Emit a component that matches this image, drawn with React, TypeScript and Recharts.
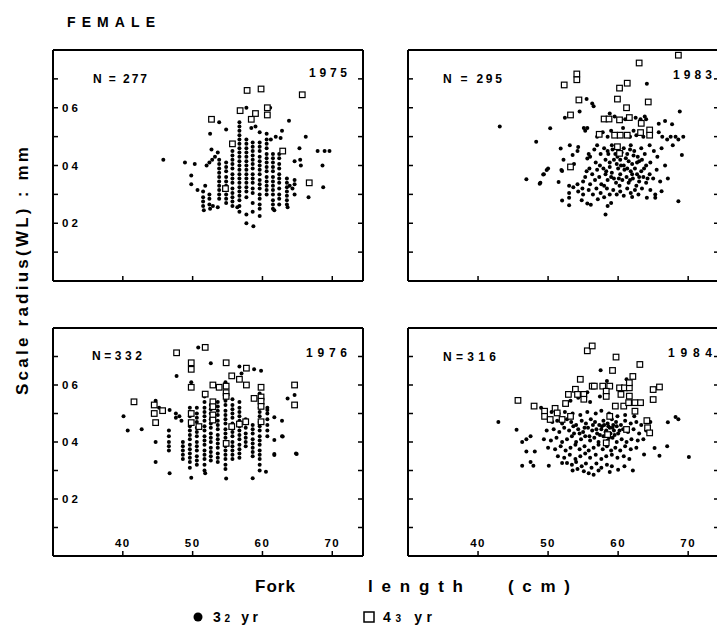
import { ScatterChart, Scatter, XAxis, YAxis } from 'recharts';

type Pt = [number, number];

const xTicks = [40, 50, 60, 70];
const xTickLabels = ['40', '50', '60', '70'];
const yTicks = [0.1, 0.2, 0.3, 0.4, 0.5, 0.6, 0.7];
const yTickLabels = ['', '0 2', '', '0 4', '', '0 6', ''];
const xDomain = [30, 74.4];
const yDomain = [0, 0.8];

// 1975: 3(2) yr fish (filled) and 4(3) yr fish (open squares)
const dots1975: Pt[] = [
  [45.8, 0.42], [48.9, 0.41], [50.3, 0.405], [49.8, 0.365], [49.8, 0.335], [50.7, 0.315], [51.8, 0.33],
  [52.0, 0.4], [52.4, 0.41], [52.8, 0.42], [53.2, 0.43], [53.6, 0.445], [52.5, 0.51], [52.7, 0.455], [53.8, 0.55], [54.8, 0.525],
  [57.7, 0.6], [61.1, 0.6], [63.8, 0.555], [62.8, 0.52], [58.4, 0.53], [59.0, 0.535], [59.6, 0.515], [60.6, 0.51], [61.2, 0.49], [61.9, 0.5], [62.6, 0.495],
  [66.2, 0.5], [65.3, 0.46], [65.4, 0.42], [65.5, 0.4], [64.6, 0.415], [67.9, 0.45], [68.9, 0.45], [69.6, 0.45], [68.6, 0.4], [68.7, 0.325], [66.6, 0.29],
  [63.9, 0.33], [64.3, 0.32], [64.6, 0.3], [63.6, 0.255], [61.7, 0.245], [59.6, 0.225], [57.7, 0.23], [57.7, 0.2], [58.7, 0.19], [56.4, 0.255], [53.6, 0.255],
  [51.5, 0.31], [51.5, 0.29], [51.5, 0.275], [51.5, 0.26], [51.6, 0.245], [52.4, 0.3], [52.4, 0.285], [52.4, 0.265], [52.5, 0.25], [52.9, 0.26],
  [53.8, 0.42], [53.8, 0.405], [53.8, 0.39], [53.8, 0.375], [53.8, 0.36], [53.8, 0.345], [53.8, 0.33], [53.8, 0.315], [53.8, 0.3], [53.8, 0.285],
  [54.8, 0.41], [54.8, 0.395], [54.8, 0.38], [54.8, 0.36], [54.8, 0.345], [54.8, 0.33], [54.8, 0.315], [54.8, 0.3], [54.8, 0.285], [54.8, 0.27],
  [55.7, 0.45], [55.7, 0.435], [55.7, 0.42], [55.7, 0.405], [55.7, 0.39], [55.7, 0.37], [55.7, 0.355], [55.7, 0.34], [55.7, 0.32], [55.7, 0.305], [55.7, 0.29], [55.7, 0.275], [55.7, 0.26],
  [56.7, 0.55], [56.7, 0.535], [56.7, 0.52], [56.7, 0.505], [56.7, 0.49], [56.7, 0.475], [56.7, 0.46], [56.7, 0.445], [56.7, 0.43], [56.7, 0.415], [56.7, 0.4],
  [56.7, 0.385], [56.7, 0.37], [56.7, 0.355], [56.7, 0.34], [56.7, 0.325], [56.7, 0.31], [56.7, 0.295], [56.7, 0.28], [56.7, 0.26], [56.7, 0.24],
  [57.7, 0.49], [57.7, 0.475], [57.7, 0.46], [57.7, 0.445], [57.7, 0.43], [57.7, 0.415], [57.7, 0.4], [57.7, 0.385], [57.7, 0.37], [57.7, 0.355], [57.7, 0.34], [57.7, 0.325], [57.7, 0.31], [57.7, 0.29],
  [58.6, 0.48], [58.6, 0.465], [58.6, 0.45], [58.6, 0.435], [58.6, 0.42], [58.6, 0.405], [58.6, 0.39], [58.6, 0.37], [58.6, 0.355], [58.6, 0.34], [58.6, 0.32], [58.6, 0.305], [58.6, 0.27], [58.6, 0.24],
  [59.6, 0.48], [59.6, 0.465], [59.6, 0.45], [59.6, 0.43], [59.6, 0.415], [59.6, 0.4], [59.6, 0.385], [59.6, 0.37], [59.6, 0.35], [59.6, 0.335], [59.6, 0.32], [59.6, 0.3], [59.6, 0.285], [59.6, 0.265], [59.6, 0.25],
  [60.6, 0.49], [60.6, 0.475], [60.6, 0.46], [60.6, 0.44], [60.6, 0.425], [60.6, 0.41], [60.6, 0.395], [60.6, 0.38], [60.6, 0.36], [60.6, 0.345], [60.6, 0.33], [60.6, 0.315], [60.6, 0.3],
  [61.5, 0.44], [61.5, 0.425], [61.5, 0.41], [61.5, 0.395], [61.5, 0.38], [61.5, 0.36], [61.5, 0.345], [61.5, 0.33], [61.5, 0.315], [61.5, 0.3], [61.5, 0.28], [61.5, 0.265], [61.5, 0.25],
  [62.4, 0.44], [62.4, 0.425], [62.4, 0.405], [62.4, 0.39], [62.4, 0.37], [62.4, 0.355], [62.4, 0.34], [62.4, 0.32], [62.4, 0.3], [62.4, 0.285], [62.4, 0.265],
  [63.5, 0.355], [63.5, 0.34], [63.5, 0.325], [63.5, 0.31], [63.5, 0.295], [63.5, 0.28], [63.5, 0.265], [64.6, 0.35], [64.6, 0.335],
];
const squares1975: Pt[] = [
  [57.8, 0.66], [59.8, 0.665], [65.7, 0.645], [56.8, 0.59], [58.4, 0.56], [59.0, 0.58], [60.7, 0.6],
  [60.7, 0.575], [52.7, 0.56], [55.7, 0.475], [62.9, 0.45], [66.7, 0.34], [54.7, 0.32],
];

// 1983
const dots1983: Pt[] = [
  [52.4, 0.565], [54.5, 0.587], [55.5, 0.63], [56.5, 0.605], [56.3, 0.615], [64.1, 0.683], [63.8, 0.57], [62.5, 0.565], [63.2, 0.56],
  [64.0, 0.56], [58.8, 0.58], [61.0, 0.56], [59.5, 0.57], [65.8, 0.545], [66.7, 0.554], [67.7, 0.543], [68.8, 0.587],
  [43.1, 0.535], [50.3, 0.529], [48.3, 0.482], [51.8, 0.459], [53.1, 0.47], [54.3, 0.464], [53.5, 0.436], [55.1, 0.53], [55.6, 0.53],
  [55.3, 0.52], [57.0, 0.5], [57.8, 0.515], [58.5, 0.5], [59.0, 0.52], [62.2, 0.52], [62.6, 0.505], [63.6, 0.5], [65.8, 0.515],
  [66.3, 0.5], [67.0, 0.49], [67.5, 0.5], [68.2, 0.5], [68.6, 0.49], [69.3, 0.5], [67.8, 0.47], [60.7, 0.53], [61.7, 0.5],
  [55.6, 0.424], [55.8, 0.44], [56.0, 0.43], [56.6, 0.455], [57.0, 0.47], [57.5, 0.44], [58.0, 0.46], [58.5, 0.45], [59.1, 0.47],
  [59.6, 0.44], [60.8, 0.46], [61.3, 0.44], [61.8, 0.47], [62.3, 0.45], [62.8, 0.43], [63.3, 0.46], [63.8, 0.44], [64.5, 0.47],
  [65.1, 0.45], [65.6, 0.43], [66.2, 0.46], [66.7, 0.4], [69.1, 0.436], [56.8, 0.41], [57.4, 0.4], [58.2, 0.42], [58.8, 0.41],
  [59.4, 0.42], [59.8, 0.405], [60.3, 0.42], [60.8, 0.4], [61.5, 0.415], [62.0, 0.405], [62.7, 0.41], [63.4, 0.42], [64.0, 0.4],
  [64.6, 0.41], [52.2, 0.42], [54.2, 0.45], [53.7, 0.405],
  [46.9, 0.352], [48.9, 0.34], [49.4, 0.37], [49.8, 0.384], [50.0, 0.39], [49.3, 0.369], [48.8, 0.337], [51.9, 0.384], [51.5, 0.343],
  [52.0, 0.381], [53.0, 0.33], [53.6, 0.325], [54.2, 0.335], [54.9, 0.32], [55.3, 0.36], [55.5, 0.38], [55.9, 0.39], [56.3, 0.37],
  [56.7, 0.35], [57.0, 0.385], [57.3, 0.36], [57.6, 0.335], [57.9, 0.39], [58.2, 0.37], [58.5, 0.35], [58.8, 0.395], [59.1, 0.375],
  [59.4, 0.355], [59.7, 0.34], [60.0, 0.39], [60.3, 0.37], [60.6, 0.35], [60.9, 0.385], [61.2, 0.36], [61.5, 0.34], [61.8, 0.38],
  [62.1, 0.355], [62.4, 0.39], [62.7, 0.37], [63.0, 0.345], [63.3, 0.38], [63.6, 0.36], [64.0, 0.34], [64.5, 0.37], [65.0, 0.355],
  [65.5, 0.385], [66.0, 0.345], [67.1, 0.355], [55.0, 0.345], [56.0, 0.335], [58.0, 0.33], [60.2, 0.33], [62.6, 0.33],
  [58.6, 0.44], [59.2, 0.455], [59.9, 0.43], [60.5, 0.445], [61.1, 0.425], [61.7, 0.455], [62.2, 0.435], [63.0, 0.415], [63.7, 0.39],
  [58.3, 0.38], [59.0, 0.36], [60.4, 0.4], [61.3, 0.39], [62.0, 0.37], [63.0, 0.36], [64.2, 0.355], [60.1, 0.355], [61.7, 0.35],
  [52.0, 0.279], [53.0, 0.288], [53.0, 0.262], [53.0, 0.305], [55.6, 0.268], [56.1, 0.264], [57.1, 0.283], [54.3, 0.31], [55.0, 0.3],
  [55.8, 0.315], [56.4, 0.3], [56.9, 0.32], [57.5, 0.305], [58.0, 0.29], [58.4, 0.32], [58.8, 0.3], [59.0, 0.27], [58.5, 0.26],
  [58.2, 0.23], [59.3, 0.315], [59.8, 0.3], [60.3, 0.31], [60.8, 0.295], [61.3, 0.32], [61.8, 0.305], [62.0, 0.291], [62.4, 0.315],
  [62.9, 0.3], [63.4, 0.32], [64.1, 0.288], [65.3, 0.288], [65.3, 0.3], [66.2, 0.311], [64.6, 0.315], [68.6, 0.276], [54.8, 0.28],
];
const squares1983: Pt[] = [
  [68.6, 0.782], [63.0, 0.755], [54.1, 0.717], [54.1, 0.697], [52.3, 0.679], [60.2, 0.668], [61.3, 0.685], [54.4, 0.627],
  [59.9, 0.63], [61.2, 0.6], [64.3, 0.62], [53.2, 0.575], [58.0, 0.561], [58.7, 0.561], [60.2, 0.558], [61.6, 0.566],
  [63.3, 0.546], [57.3, 0.508], [59.5, 0.505], [60.3, 0.505], [61.3, 0.505], [63.2, 0.514], [64.5, 0.523], [64.5, 0.505],
  [59.9, 0.465], [60.2, 0.442], [53.2, 0.395],
];

// 1976
const dots1976: Pt[] = [
  [40.1, 0.49], [40.7, 0.44], [42.7, 0.445], [44.7, 0.4], [44.7, 0.33], [46.7, 0.29], [49.8, 0.275], [51.8, 0.29], [54.8, 0.272],
  [58.6, 0.273], [60.5, 0.296], [61.7, 0.358], [64.9, 0.358], [62.8, 0.42], [61.7, 0.487], [62.8, 0.475], [59.8, 0.65], [52.6, 0.676],
  [47.7, 0.632], [49.8, 0.61], [63.6, 0.553], [64.6, 0.565], [46.7, 0.512], [50.8, 0.732], [56.7, 0.665], [58.8, 0.655], [57.0, 0.64],
  [44.7, 0.545], [45.2, 0.52], [48.1, 0.49], [48.4, 0.475], [62.9, 0.419], [61.7, 0.407], [61.7, 0.354], [64.8, 0.36], [60.7, 0.512],
  [46.6, 0.44], [46.6, 0.42], [46.6, 0.4], [46.6, 0.385], [46.6, 0.37], [47.6, 0.5], [47.6, 0.485],
  [48.6, 0.4], [48.6, 0.385], [48.6, 0.37], [48.6, 0.355], [48.6, 0.34],
  [49.6, 0.52], [49.6, 0.505], [49.6, 0.49], [49.6, 0.47], [49.6, 0.455], [49.6, 0.44], [49.6, 0.425], [49.6, 0.41], [49.6, 0.39], [49.6, 0.375], [49.6, 0.36], [49.6, 0.345], [49.6, 0.33], [49.6, 0.31],
  [50.6, 0.52], [50.6, 0.5], [50.6, 0.485], [50.6, 0.47], [50.6, 0.45], [50.6, 0.435], [50.6, 0.42], [50.6, 0.4], [50.6, 0.385], [50.6, 0.37], [50.6, 0.35], [50.6, 0.335], [50.6, 0.32],
  [51.7, 0.56], [51.7, 0.54], [51.7, 0.52], [51.7, 0.505], [51.7, 0.49], [51.7, 0.475], [51.7, 0.455], [51.7, 0.44], [51.7, 0.42], [51.7, 0.405], [51.7, 0.39], [51.7, 0.37], [51.7, 0.355], [51.7, 0.34], [51.7, 0.32], [51.7, 0.3],
  [52.6, 0.53], [52.6, 0.515], [52.6, 0.5], [52.6, 0.48], [52.6, 0.465], [52.6, 0.45], [52.6, 0.43], [52.6, 0.415], [52.6, 0.4], [52.6, 0.38], [52.6, 0.365], [52.6, 0.35], [52.6, 0.335],
  [53.6, 0.54], [53.6, 0.525], [53.6, 0.51], [53.6, 0.495], [53.6, 0.475], [53.6, 0.46], [53.6, 0.445], [53.6, 0.425], [53.6, 0.41], [53.6, 0.395], [53.6, 0.38], [53.6, 0.36], [53.6, 0.345], [53.6, 0.33],
  [54.7, 0.61], [54.7, 0.595], [54.7, 0.575], [54.7, 0.56], [54.7, 0.545], [54.7, 0.53], [54.7, 0.51], [54.7, 0.495], [54.7, 0.48], [54.7, 0.465],
  [54.7, 0.445], [54.7, 0.43], [54.7, 0.415], [54.7, 0.4], [54.7, 0.385], [54.7, 0.37], [54.7, 0.355], [54.7, 0.34], [54.7, 0.32], [54.7, 0.305],
  [55.7, 0.55], [55.7, 0.53], [55.7, 0.515], [55.7, 0.5], [55.7, 0.485], [55.7, 0.465], [55.7, 0.45], [55.7, 0.435], [55.7, 0.42], [55.7, 0.4], [55.7, 0.385], [55.7, 0.37], [55.7, 0.355], [55.7, 0.34],
  [56.7, 0.54], [56.7, 0.52], [56.7, 0.505], [56.7, 0.49], [56.7, 0.475], [56.7, 0.455], [56.7, 0.44], [56.7, 0.425], [56.7, 0.41], [56.7, 0.39], [56.7, 0.375], [56.7, 0.36], [56.7, 0.345],
  [57.6, 0.48], [57.6, 0.465], [57.6, 0.45], [57.6, 0.43], [57.6, 0.415], [57.6, 0.4], [57.6, 0.385],
  [58.6, 0.46], [58.6, 0.445], [58.6, 0.43], [58.6, 0.41], [58.6, 0.395], [58.6, 0.38], [58.6, 0.365], [58.6, 0.35],
  [59.6, 0.57], [59.6, 0.555], [59.6, 0.54], [59.6, 0.52], [59.6, 0.505], [59.6, 0.49], [59.6, 0.47], [59.6, 0.455], [59.6, 0.44],
  [59.6, 0.42], [59.6, 0.405], [59.6, 0.39], [59.6, 0.37], [59.6, 0.355], [59.6, 0.34], [59.6, 0.32], [59.6, 0.3],
  [60.7, 0.52], [60.7, 0.5], [60.7, 0.48], [60.7, 0.46], [60.7, 0.44], [60.7, 0.42],
];
const squares1976: Pt[] = [
  [47.7, 0.713], [51.8, 0.732], [49.8, 0.678], [49.8, 0.655], [54.8, 0.678], [57.7, 0.659], [55.6, 0.632], [56.7, 0.62],
  [57.7, 0.6], [49.8, 0.592], [52.9, 0.6], [53.8, 0.592], [54.8, 0.596], [54.8, 0.573], [54.8, 0.56], [59.8, 0.592],
  [59.8, 0.558], [59.8, 0.543], [59.8, 0.525], [64.6, 0.6], [64.6, 0.53], [51.8, 0.568], [52.9, 0.541], [52.9, 0.524],
  [52.9, 0.495], [52.9, 0.477], [41.6, 0.541], [44.5, 0.53], [44.5, 0.5], [45.7, 0.51], [44.7, 0.468], [49.8, 0.5],
  [49.8, 0.468], [50.9, 0.454], [55.6, 0.454], [56.7, 0.463], [57.6, 0.471], [59.8, 0.471], [54.8, 0.395], [58.8, 0.553],
];

// 1984
const dots1984: Pt[] = [
  [42.9, 0.47], [45.5, 0.443], [46.3, 0.4], [46.9, 0.41], [47.5, 0.42], [46.9, 0.367], [48.1, 0.367], [46.3, 0.317], [47.5, 0.33],
  [47.9, 0.317], [50.1, 0.317], [52.0, 0.326], [52.7, 0.326], [55.1, 0.297], [57.5, 0.652], [58.4, 0.614], [61.2, 0.62], [67.1, 0.469],
  [68.2, 0.488], [68.6, 0.48], [67.0, 0.385], [65.2, 0.379], [65.9, 0.352], [63.7, 0.356], [70.1, 0.347], [60.0, 0.303], [60.9, 0.315],
  [62.1, 0.3], [49.0, 0.52], [50.5, 0.505], [52.3, 0.53], [53.2, 0.545], [54.3, 0.555], [56.0, 0.54], [57.4, 0.56], [55.6, 0.575],
  [60.6, 0.59], [61.5, 0.6],
  [51.5, 0.5], [52.4, 0.505], [53.5, 0.5], [54.6, 0.495], [55.6, 0.505], [56.8, 0.5], [57.6, 0.51], [58.7, 0.5], [59.9, 0.49], [61.0, 0.495], [62.3, 0.49],
  [50.6, 0.47], [51.3, 0.475], [52.0, 0.465], [52.7, 0.48], [53.3, 0.47], [54.0, 0.46], [54.8, 0.475], [55.4, 0.465], [56.1, 0.48], [56.7, 0.47],
  [57.3, 0.46], [57.9, 0.475], [58.5, 0.465], [59.1, 0.48], [59.7, 0.47], [60.4, 0.46], [61.0, 0.475], [61.8, 0.465], [62.6, 0.47], [63.3, 0.46], [64.6, 0.47],
  [49.8, 0.44], [50.8, 0.445], [51.6, 0.435], [52.3, 0.45], [53.0, 0.44], [53.7, 0.43], [54.3, 0.445], [55.0, 0.435], [55.7, 0.45], [56.3, 0.44],
  [57.0, 0.43], [57.6, 0.445], [58.2, 0.435], [58.8, 0.45], [59.4, 0.44], [60.0, 0.43], [60.7, 0.445], [61.4, 0.435], [62.2, 0.445], [63.0, 0.43], [64.0, 0.44],
  [49.4, 0.41], [50.4, 0.405], [51.2, 0.415], [52.0, 0.4], [52.7, 0.41], [53.4, 0.42], [54.0, 0.4], [54.7, 0.41], [55.3, 0.42], [56.0, 0.405],
  [56.6, 0.415], [57.2, 0.4], [57.9, 0.42], [58.5, 0.405], [59.2, 0.415], [59.8, 0.4], [60.5, 0.41], [61.2, 0.4], [61.9, 0.41], [62.8, 0.405], [63.6, 0.41],
  [50.0, 0.38], [51.0, 0.375], [51.8, 0.385], [52.5, 0.37], [53.2, 0.38], [53.9, 0.39], [54.5, 0.375], [55.2, 0.385], [55.8, 0.37], [56.5, 0.38],
  [57.2, 0.39], [57.8, 0.375], [58.4, 0.385], [59.0, 0.37], [59.6, 0.38], [60.3, 0.37], [61.0, 0.385], [61.8, 0.375], [62.6, 0.38],
  [51.4, 0.35], [52.3, 0.345], [53.1, 0.355], [53.9, 0.34], [54.6, 0.35], [55.3, 0.36], [56.0, 0.345], [56.8, 0.355], [57.6, 0.34], [58.3, 0.35],
  [59.1, 0.355], [59.9, 0.345], [60.8, 0.35], [61.6, 0.34],
  [53.4, 0.32], [54.0, 0.33], [54.8, 0.315], [55.4, 0.325], [56.2, 0.31], [56.9, 0.325], [57.6, 0.31], [58.4, 0.32], [59.1, 0.315],
  [53.5, 0.3], [54.2, 0.305], [55.8, 0.29], [56.5, 0.285], [57.2, 0.3], [58.8, 0.295],
  [58.0, 0.46], [58.6, 0.455], [59.2, 0.45], [58.3, 0.44], [58.9, 0.43], [59.5, 0.425], [58.1, 0.42], [58.7, 0.415], [59.3, 0.46],
  [57.7, 0.455], [59.8, 0.455], [60.2, 0.44], [57.4, 0.425], [56.9, 0.445], [56.4, 0.46], [55.9, 0.42], [55.2, 0.45], [54.5, 0.43], [53.6, 0.455],
];
const squares1984: Pt[] = [
  [55.6, 0.72], [56.3, 0.737], [59.7, 0.698], [59.2, 0.651], [63.1, 0.672], [54.6, 0.62], [53.9, 0.585], [54.2, 0.567], [55.1, 0.567],
  [55.1, 0.55], [52.9, 0.567], [52.5, 0.535], [51.0, 0.518], [51.3, 0.502], [49.5, 0.508], [49.5, 0.49], [48.0, 0.526], [45.7, 0.546],
  [50.3, 0.479], [52.0, 0.479], [53.2, 0.49], [56.3, 0.596], [56.6, 0.596], [57.8, 0.596], [58.8, 0.596], [60.2, 0.59], [60.9, 0.59],
  [61.6, 0.59], [62.1, 0.63], [61.6, 0.608], [58.3, 0.578], [58.3, 0.56], [60.4, 0.567], [61.6, 0.561], [65.0, 0.584], [65.9, 0.593],
  [65.0, 0.549], [59.6, 0.526], [60.8, 0.526], [61.5, 0.538], [62.4, 0.538], [63.2, 0.538], [62.4, 0.508], [64.1, 0.475], [64.2, 0.45],
  [64.5, 0.432], [58.5, 0.426], [58.3, 0.397], [61.2, 0.444], [58.8, 0.49],
];

const toXY = (pts: Pt[]) => pts.map(([x, y]) => ({ x, y }));

const FONT = '"Liberation Sans", Arial, Helvetica, sans-serif';

const Dot = (p: any) => <circle cx={p.cx} cy={p.cy} r={2} fill="#000" />;
const Box = (p: any) => (
  <rect x={p.cx - 2.8} y={p.cy - 2.8} width={5.6} height={5.6} fill="#fff" stroke="#000" strokeWidth={1.2} />
);
const NoTick = () => <g />;
const XTick = (p: any) => (
  <text x={p.x} y={p.y} textAnchor="middle" fontFamily={FONT} fontWeight={700} fontSize={11.5} letterSpacing={1.5} fill="#000">
    {xTickLabels[xTicks.indexOf(p.payload.value)]}
  </text>
);
const YTick = (p: any) => (
  <text x={p.x} y={p.y + 4} textAnchor="start" fontFamily={FONT} fontWeight={700} fontSize={11.5} fill="#000">
    {yTickLabels[yTicks.indexOf(p.payload.value)]}
  </text>
);

const axisLine = { stroke: '#000', strokeWidth: 2 };
const tickLine = { stroke: '#000', strokeWidth: 1.5 };

interface PanelProps {
  left: number;
  top: number;
  width: number;
  height: number;
  dots: Pt[];
  squares: Pt[];
  showX: boolean;
  showY: boolean;
}

function Panel({ left, top, width, height, dots, squares, showX, showY }: PanelProps) {
  return (
    <div style={{ position: 'absolute', left: left - 1, top: top - 1 }}>
      <ScatterChart width={width + 2} height={height + 2} margin={{ top: 1, right: 1, bottom: 1, left: 1 }}>
        <XAxis xAxisId="b" type="number" dataKey="x" orientation="bottom" mirror domain={xDomain} ticks={xTicks}
          allowDataOverflow interval={0} axisLine={axisLine} tickLine={tickLine} tickSize={5} tickMargin={4}
          tick={showX ? XTick : NoTick} />
        <XAxis xAxisId="t" type="number" orientation="top" mirror domain={xDomain} ticks={xTicks}
          allowDataOverflow interval={0} axisLine={axisLine} tickLine={tickLine} tickSize={5} tick={NoTick} />
        <YAxis yAxisId="l" type="number" dataKey="y" orientation="left" mirror domain={yDomain} ticks={yTicks}
          allowDataOverflow interval={0} axisLine={axisLine} tickLine={tickLine} tickSize={5} tickMargin={4}
          tick={showY ? YTick : NoTick} />
        <YAxis yAxisId="r" type="number" orientation="right" mirror domain={yDomain} ticks={yTicks}
          allowDataOverflow interval={0} axisLine={axisLine} tickLine={tickLine} tickSize={5} tick={NoTick} />
        <Scatter data={toXY(dots)} xAxisId="b" yAxisId="l" shape={Dot} isAnimationActive={false} />
        <Scatter data={toXY(squares)} xAxisId="b" yAxisId="l" shape={Box} isAnimationActive={false} />
      </ScatterChart>
    </div>
  );
}

const label = { fontFamily: FONT, fontWeight: 700, fill: '#000' } as const;

export default function App() {
  return (
    <div style={{ position: 'absolute', left: 0, top: 0, width: 717, height: 626, background: '#fff', overflow: 'hidden' }}>
      <Panel left={53} top={50} width={310} height={231} dots={dots1975} squares={squares1975} showX={false} showY />
      <Panel left={408} top={50} width={311} height={231} dots={dots1983} squares={squares1983} showX={false} showY={false} />
      <Panel left={53} top={328} width={310} height={228} dots={dots1976} squares={squares1976} showX showY />
      <Panel left={408} top={328} width={311} height={228} dots={dots1984} squares={squares1984} showX showY={false} />
      <svg width={717} height={626} style={{ position: 'absolute', left: 0, top: 0, pointerEvents: 'none' }}>
        <text x={67} y={27} fontSize={14} textLength={88} lengthAdjust="spacing" {...label}>FEMALE</text>

        <text x={93} y={83} fontSize={12} textLength={54} lengthAdjust="spacing" {...label}>N = 277</text>
        <text x={309} y={77} fontSize={12} textLength={38} lengthAdjust="spacing" {...label}>1975</text>
        <text x={443} y={83} fontSize={12} textLength={59} lengthAdjust="spacing" {...label}>N = 295</text>
        <text x={673} y={79} fontSize={12} textLength={39} lengthAdjust="spacing" {...label}>1983</text>
        <text x={92} y={360} fontSize={12} textLength={50} lengthAdjust="spacing" {...label}>N=332</text>
        <text x={306} y={357} fontSize={12} textLength={41} lengthAdjust="spacing" {...label}>1976</text>
        <text x={443} y={361} fontSize={12} textLength={53} lengthAdjust="spacing" {...label}>N=316</text>
        <text x={668} y={357} fontSize={12} textLength={44} lengthAdjust="spacing" {...label}>1984</text>

        <text x={28} y={271} fontSize={17} textAnchor="middle" textLength={248} lengthAdjust="spacing"
          transform="rotate(-90, 28, 271)" {...label}>Scale  radius(WL) : mm</text>

        <text x={255} y={592} fontSize={17} textLength={40} lengthAdjust="spacing" {...label}>Fork</text>
        <text x={368} y={592} fontSize={17} textLength={95} lengthAdjust="spacing" {...label}>length</text>
        <text x={508} y={592} fontSize={17} textLength={62} lengthAdjust="spacing" {...label}>(cm)</text>

        <circle cx={198} cy={617} r={4.5} fill="#000" />
        <text x={213} y={622} fontSize={14} textLength={45} lengthAdjust="spacing" {...label}>
          3<tspan fontSize={10}>2</tspan> yr
        </text>
        <rect x={364} y={612} width={10} height={10} fill="#fff" stroke="#000" strokeWidth={1.5} />
        <text x={383} y={622} fontSize={14} textLength={49} lengthAdjust="spacing" {...label}>
          4<tspan fontSize={10}>3</tspan> yr
        </text>
      </svg>
    </div>
  );
}
